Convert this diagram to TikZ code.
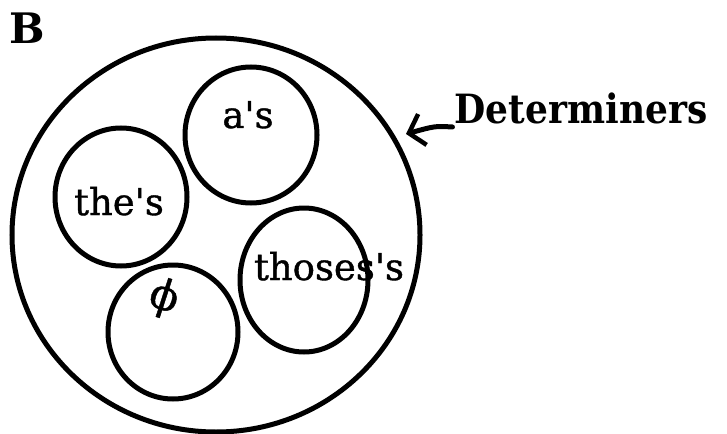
\documentclass[tikz,border=0pt]{standalone}
\usepackage{fontspec}
\newfontfamily\tw{DejaVu Serif}[FakeBold=1]
\newfontfamily\twb{DejaVu Serif Bold}
\usetikzlibrary{arrows.meta}
\tikzset{
  pen/.style={line width=5pt, draw=black},
  ring/.style={pen},
  lbl/.style={font=\tw\fontsize{37}{40}\selectfont, inner sep=0pt, anchor=base},
  biglbl/.style={font=\twb\fontsize{36}{40}\selectfont, inner sep=0pt, anchor=base, yscale=1.12},
}
\begin{document}
\begin{tikzpicture}[x=1pt, y=-1pt]
\useasboundingbox (0,0) rectangle (727,433);
% outer set
\draw[ring] (216,235) ellipse [x radius=204, y radius=197];
% subsets
\draw[ring] (251,135) ellipse [x radius=66, y radius=68];
\draw[ring] (121,197) ellipse [x radius=66, y radius=69];
\draw[ring] (304,280) ellipse [x radius=64, y radius=72];
\draw[ring] (173,332) ellipse [x radius=65, y radius=67];
% labels
\node[lbl] (as) at (248,128) {a's};
\node[lbl] (thes) at (119,215) {the's};
\node[lbl] (thoses) at (329,280) {thoses's};
\node[font=\tw\fontsize{42}{46}\selectfont, inner sep=0pt, rotate=-18] (null) at (164,298) {ϕ};
\node[font=\twb\fontsize{42}{46}\selectfont, inner sep=0pt] (B) at (27,28) {B};
\node[biglbl] (det) at (581,123) {Determiners};
\coordinate (tip) at (406,134);
\draw[pen, line cap=round, -{Straight Barb[length=14pt, width=32pt, line width=4.5pt]}]
  (det.base west) ++(-2,4) coordinate (tail) (tail) .. controls (435,126) .. (tip);
\end{tikzpicture}
\end{document}
